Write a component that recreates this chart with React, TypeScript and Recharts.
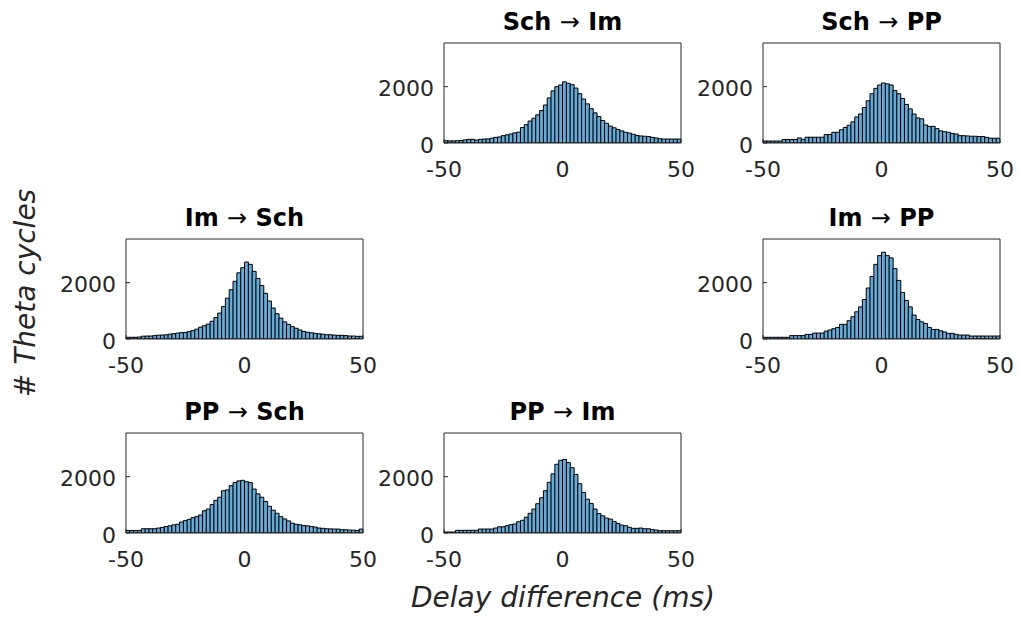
import React from 'react';
import { ComposedChart, Bar, Line, XAxis, YAxis } from 'recharts';

// ---- data ----
const BIN_COUNT = 62;
const BIN_WIDTH = 100 / BIN_COUNT;
const BIN_CENTERS = Array.from({ length: BIN_COUNT }, (_, i) => -50 + (i + 0.5) * BIN_WIDTH);
const X_TICKS = [-50, 0, 50];
const Y_TICKS = [0, 2000];
const Y_MAX = 3550;

const X_LABEL = 'Delay difference (ms)';
const Y_LABEL = '# Theta cycles';

const SCH_IM = [
  80, 75, 75, 80, 85, 110, 130, 130, 105, 130,
  140, 145, 170, 200, 215, 260, 290, 320, 360, 385,
  550, 650, 780, 880, 1000, 1150, 1350, 1600, 1850, 2000,
  2060, 2170, 2120, 2070, 1950, 1750, 1560, 1390, 1220, 1070,
  940, 800, 700, 600, 540, 480, 430, 380, 350, 310,
  270, 250, 240, 230, 200, 180, 150, 140, 140, 140,
  140, 140,
];

const SCH_PP = [
  70, 70, 70, 70, 70, 125, 125, 125, 125, 180,
  130, 205, 205, 205, 205, 205, 300, 300, 380, 380,
  470, 550, 630, 750, 925, 1030, 1260, 1500, 1750, 1940,
  2060, 2130, 2100, 2060, 1860, 1750, 1580, 1370, 1210, 1030,
  890, 860, 640, 590, 590, 510, 430, 400, 380, 340,
  320, 260, 260, 250, 240, 240, 230, 230, 200, 170,
  170, 170,
];

const IM_SCH = [
  60, 60, 60, 70, 100, 105, 105, 120, 135, 140,
  150, 170, 190, 210, 225, 235, 260, 300, 350, 420,
  470, 530, 630, 760, 920, 1150, 1450, 1750, 2050, 2350,
  2530, 2730, 2650, 2400, 2150, 1900, 1620, 1350, 1100, 900,
  740, 610, 520, 440, 380, 320, 270, 240, 220, 200,
  185, 170, 150, 150, 140, 130, 130, 120, 105, 105,
  95, 95,
];

const IM_PP = [
  60, 60, 60, 60, 60, 60, 60, 120, 120, 120,
  120, 165, 165, 210, 210, 210, 280, 320, 365, 410,
  520, 520, 650, 790, 965, 1140, 1400, 1810, 2220, 2650,
  2960, 3080, 2960, 2880, 2500, 2080, 1650, 1370, 1140, 850,
  690, 610, 550, 410, 340, 340, 290, 250, 200, 200,
  165, 140, 140, 140, 105, 105, 105, 105, 105, 105,
  105, 105,
];

const PP_SCH = [
  90, 90, 90, 90, 150, 150, 150, 150, 175, 200,
  230, 255, 290, 310, 390, 440, 485, 545, 580, 640,
  790, 850, 1010, 1160, 1270, 1500, 1530, 1680, 1790, 1850,
  1870, 1820, 1790, 1560, 1390, 1270, 1120, 950, 810, 700,
  580, 500, 430, 350, 310, 290, 265, 255, 230, 210,
  175, 165, 150, 145, 140, 140, 115, 115, 105, 100,
  90, 140,
];

const PP_IM = [
  35, 35, 35, 95, 95, 95, 95, 95, 95, 140,
  140, 140, 140, 175, 220, 220, 260, 295, 320, 400,
  450, 560, 700, 850, 1040, 1250, 1500, 1800, 2100, 2440,
  2580, 2610, 2500, 2320, 2080, 1750, 1440, 1200, 1050, 850,
  690, 610, 530, 495, 410, 340, 280, 260, 200, 165,
  165, 175, 150, 150, 120, 105, 80, 80, 80, 80,
  80, 80,
];

// ---- layout ----
const FONT = "'DejaVu Sans', 'Liberation Sans', Arial, sans-serif";
const AXIS_COLOR = '#262626';
const BAR_FILL = 'rgb(102, 170, 215)';
const PLOT_W = 237;
const PLOT_H = 100;
const Y_AXIS_W = 80;
const X_AXIS_H = 45;
const TOP_M = 4;
const TOP_AXIS_H = 1;
const RIGHT_AXIS_W = 1;
const RIGHT_M = 28;
const COL_LEFT = [126, 444, 763];
const ROW_TOP = [43, 239, 433];

const PANELS = [
  { from: 'Sch', to: 'Im', values: SCH_IM, row: 0, col: 1 },
  { from: 'Sch', to: 'PP', values: SCH_PP, row: 0, col: 2 },
  { from: 'Im', to: 'Sch', values: IM_SCH, row: 1, col: 0 },
  { from: 'Im', to: 'PP', values: IM_PP, row: 1, col: 2 },
  { from: 'PP', to: 'Sch', values: PP_SCH, row: 2, col: 0 },
  { from: 'PP', to: 'Im', values: PP_IM, row: 2, col: 1 },
];

const tickStyle = { fill: AXIS_COLOR, fontSize: 22, fontFamily: FONT };
const yTickStyle = { ...tickStyle, dy: 2 };
const lineStyle = { stroke: AXIS_COLOR, strokeWidth: 1 };

function Panel({ from, to, values, left, top }: any) {
  const data = BIN_CENTERS.map((c, i) => ({ bin: c, count: values[i] }));
  return (
    <>
      <div
        style={{
          position: 'absolute',
          left,
          top: top - 33,
          width: PLOT_W,
          textAlign: 'center',
          fontFamily: FONT,
          fontSize: 24,
          lineHeight: '24px',
          fontWeight: 700,
          color: '#000',
          whiteSpace: 'nowrap',
        }}
      >
        {from} <span style={{ fontWeight: 400 }}>→</span> {to}
      </div>
      <div
        style={{
          position: 'absolute',
          left: left - Y_AXIS_W,
          top: top - TOP_M - TOP_AXIS_H,
        }}
      >
        <ComposedChart
          width={Y_AXIS_W + PLOT_W + RIGHT_AXIS_W + RIGHT_M}
          height={TOP_M + TOP_AXIS_H + PLOT_H + X_AXIS_H}
          data={data}
          margin={{ top: TOP_M, right: RIGHT_M, bottom: 0, left: 0 }}
          barCategoryGap={0}
          barGap={0}
        >
          <XAxis
            dataKey="bin"
            type="number"
            domain={[-50, 50]}
            ticks={X_TICKS}
            allowDataOverflow
            interval={0}
            height={X_AXIS_H}
            tickSize={-4}
            tickMargin={22}
            tick={tickStyle}
            axisLine={lineStyle}
            tickLine={lineStyle}
          />
          <XAxis
            xAxisId="top"
            dataKey="bin"
            orientation="top"
            type="number"
            domain={[-50, 50]}
            ticks={X_TICKS}
            allowDataOverflow
            interval={0}
            height={TOP_AXIS_H}
            tickSize={-4}
            tick={false}
            axisLine={lineStyle}
            tickLine={lineStyle}
          />
          <YAxis
            type="number"
            domain={[0, Y_MAX]}
            ticks={Y_TICKS}
            allowDataOverflow
            interval={0}
            width={Y_AXIS_W}
            tickSize={-4}
            tickMargin={14}
            tick={yTickStyle}
            axisLine={lineStyle}
            tickLine={lineStyle}
          />
          <YAxis
            yAxisId="right"
            orientation="right"
            type="number"
            domain={[0, Y_MAX]}
            ticks={Y_TICKS}
            allowDataOverflow
            interval={0}
            width={RIGHT_AXIS_W}
            tickSize={-4}
            tick={false}
            axisLine={lineStyle}
            tickLine={lineStyle}
          />
          <Bar
            dataKey="count"
            fill={BAR_FILL}
            stroke="#000"
            strokeWidth={1}
            isAnimationActive={false}
          />
          <Line
            xAxisId="top"
            yAxisId="right"
            dataKey="count"
            stroke="none"
            dot={false}
            activeDot={false}
            isAnimationActive={false}
          />
        </ComposedChart>
      </div>
    </>
  );
}

export default function App() {
  return (
    <div
      style={{
        position: 'absolute',
        left: 0,
        top: 0,
        width: 1018,
        height: 621,
        background: '#fff',
        overflow: 'hidden',
      }}
    >
      {PANELS.map((p) => (
        <Panel
          key={p.from + p.to}
          from={p.from}
          to={p.to}
          values={p.values}
          left={COL_LEFT[p.col]}
          top={ROW_TOP[p.row]}
        />
      ))}
      <div
        style={{
          position: 'absolute',
          left: 363,
          top: 584,
          width: 400,
          textAlign: 'center',
          fontFamily: FONT,
          fontStyle: 'italic',
          fontSize: 28,
          lineHeight: '28px',
          color: AXIS_COLOR,
          whiteSpace: 'nowrap',
        }}
      >
        {X_LABEL}
      </div>
      <div
        style={{
          position: 'absolute',
          left: 26 - 150,
          top: 293 - 14,
          width: 300,
          textAlign: 'center',
          fontFamily: FONT,
          fontStyle: 'italic',
          fontSize: 28,
          lineHeight: '28px',
          color: AXIS_COLOR,
          whiteSpace: 'nowrap',
          transform: 'rotate(-90deg)',
        }}
      >
        {Y_LABEL}
      </div>
    </div>
  );
}
